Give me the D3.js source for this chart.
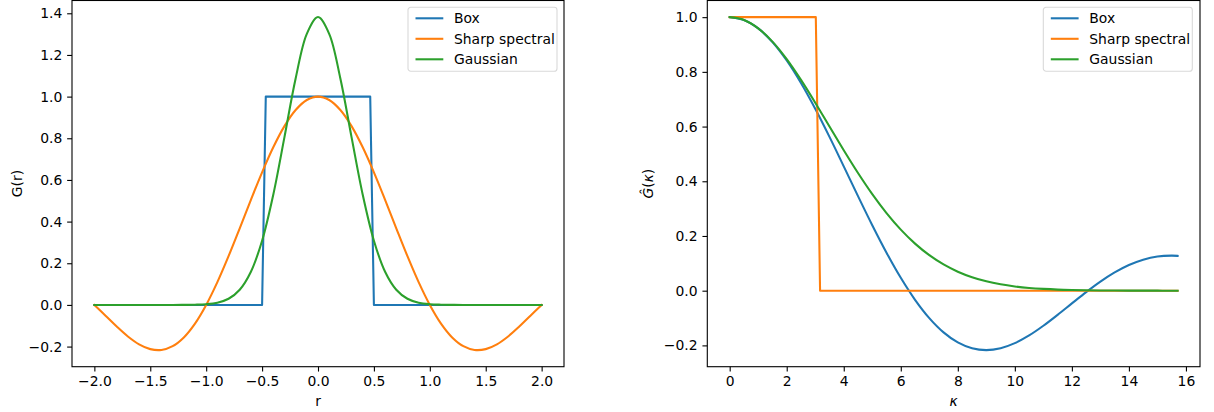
<!DOCTYPE html>
<html>
<head>
<meta charset="utf-8">
<script src="https://cdn.jsdelivr.net/npm/d3@7"></script>
<style>
  body { margin: 0; background: #fff; }
  svg text { font-family: "DejaVu Sans", sans-serif; fill: #000; }
</style>
</head>
<body>
<div class="chart"></div>
<script>
/* series names and colours */
const seriesNames = ["Box", "Sharp spectral", "Gaussian"];
const seriesColors = ["#1f77b4", "#ff7f0e", "#2ca02c"];

/* left panel: filter kernels G(r) */
const boxR = [-2.0, -0.5, -0.467, 0.467, 0.5, 2.0];
const boxG = [0, 0, 1, 1, 0, 0];

const smoothR = [-2.0, -1.9, -1.8, -1.7, -1.6, -1.5, -1.4, -1.3, -1.2, -1.1, -1.0,
  -0.9, -0.8, -0.7, -0.6, -0.5, -0.4, -0.3, -0.2, -0.1, 0.0,
  0.1, 0.2, 0.3, 0.4, 0.5, 0.6, 0.7, 0.8, 0.9, 1.0,
  1.1, 1.2, 1.3, 1.4, 1.5, 1.6, 1.7, 1.8, 1.9, 2.0];
const sharpG = [0, -0.0518, -0.1039, -0.1515, -0.1892, -0.2122, -0.2162, -0.1981, -0.1559, -0.0894, 0,
  0.1093, 0.2339, 0.3679, 0.5046, 0.6366, 0.7568, 0.8584, 0.9355, 0.9836, 1.0,
  0.9836, 0.9355, 0.8584, 0.7568, 0.6366, 0.5046, 0.3679, 0.2339, 0.1093, 0,
  -0.0894, -0.1559, -0.1981, -0.2162, -0.2122, -0.1892, -0.1515, -0.1039, -0.0518, 0];
const gaussG = [0, 0, 0, 0, 0, 0, 0, 0, 0.0002, 0.0010, 0.0034,
  0.0107, 0.0297, 0.0731, 0.1594, 0.3084, 0.5292, 0.8054, 1.0871, 1.3015, 1.382,
  1.3015, 1.0871, 0.8054, 0.5292, 0.3084, 0.1594, 0.0731, 0.0297, 0.0107, 0.0034,
  0.0010, 0.0002, 0, 0, 0, 0, 0, 0, 0, 0];

/* right panel: transfer functions Ĝ(κ) */
const kappa = [0, 0.5, 1, 1.5, 2, 2.5, 3, 3.5, 4, 4.5, 5, 5.5, 6, 6.5, 7, 7.5, 8,
  8.5, 9, 9.5, 10, 10.5, 11, 11.5, 12, 12.5, 13, 13.5, 14, 14.5, 15, 15.5, 15.708];
const boxHat = [1, 0.9896, 0.9589, 0.9089, 0.8415, 0.7592, 0.6650, 0.5623, 0.4546, 0.3458,
  0.2394, 0.1388, 0.0470, -0.0333, -0.1002, -0.1524, -0.1892, -0.2106, -0.2172, -0.2104,
  -0.1918, -0.1636, -0.1283, -0.0884, -0.0466, -0.0053, 0.0331, 0.0667, 0.0939, 0.1135,
  0.1251, 0.1283, 0.1273];
const gaussHat = [1, 0.9896, 0.9592, 0.9105, 0.8465, 0.7707, 0.6873, 0.6002, 0.5134, 0.4301,
  0.3529, 0.2836, 0.2231, 0.1720, 0.1298, 0.0960, 0.0695, 0.0493, 0.0342, 0.0233,
  0.0155, 0.0101, 0.0065, 0.0040, 0.0025, 0.0015, 0.0009, 0.0005, 0.0003, 0.0002,
  0.0001, 0, 0];
const sharpK = [0, 3.02, 3.17, 15.708];
const sharpHat = [1, 1, 0, 0];

/* tick values */
const leftXTicks = [-2.0, -1.5, -1.0, -0.5, 0.0, 0.5, 1.0, 1.5, 2.0];
const leftYTicks = [-0.2, 0.0, 0.2, 0.4, 0.6, 0.8, 1.0, 1.2, 1.4];
const rightXTicks = [0, 2, 4, 6, 8, 10, 12, 14, 16];
const rightYTicks = [-0.2, 0.0, 0.2, 0.4, 0.6, 0.8, 1.0];

const width = 1214;
const height = 412;
const fontSize = 13.9;
const tickLen = 4.86;
const tickPad = 4.86;

const svg = d3.select(".chart").append("svg")
  .attr("width", width)
  .attr("height", height)
  .attr("viewBox", [0, 0, width, height]);

const minus = s => s.replace("-", "\u2212");

function drawPanel(p) {
  const x = d3.scaleLinear().domain(p.xDomain).range([p.left, p.right]);
  const y = d3.scaleLinear().domain(p.yDomain).range([p.bottom, p.top]);
  const g = svg.append("g");

  /* clip for the lines */
  const clipId = "clip" + p.id;
  g.append("clipPath").attr("id", clipId)
    .append("rect")
      .attr("x", p.left).attr("y", p.top)
      .attr("width", p.right - p.left).attr("height", p.bottom - p.top);

  /* lines */
  const lineGroup = g.append("g").attr("clip-path", `url(#${clipId})`);
  p.series.forEach((s, i) => {
    const pts = s.xs.map((v, j) => [v, s.ys[j]]);
    lineGroup.append("path")
      .datum(pts)
      .attr("d", d3.line().x(d => x(d[0])).y(d => y(d[1])).curve(s.curve))
      .attr("fill", "none")
      .attr("stroke", seriesColors[i])
      .attr("stroke-width", 2.08)
      .attr("stroke-linejoin", "round")
      .attr("stroke-linecap", "square");
  });

  /* x axis */
  const xAxis = g.append("g")
    .attr("transform", `translate(0,${p.bottom})`)
    .call(d3.axisBottom(x).tickValues(p.xTicks).tickFormat(d => minus(p.xFmt(d)))
      .tickSizeInner(tickLen).tickSizeOuter(0).tickPadding(tickPad));
  xAxis.select(".domain").remove();
  xAxis.selectAll("line").attr("stroke", "#000").attr("stroke-width", 1.1);
  xAxis.selectAll("text").attr("font-size", fontSize).attr("font-family", "DejaVu Sans")
    .attr("fill", "#000");

  /* y axis */
  const yAxis = g.append("g")
    .attr("transform", `translate(${p.left},0)`)
    .call(d3.axisLeft(y).tickValues(p.yTicks).tickFormat(d => minus(d3.format(".1f")(d)))
      .tickSizeInner(tickLen).tickSizeOuter(0).tickPadding(tickPad));
  yAxis.select(".domain").remove();
  yAxis.selectAll("line").attr("stroke", "#000").attr("stroke-width", 1.1);
  yAxis.selectAll("text").attr("font-size", fontSize).attr("font-family", "DejaVu Sans")
    .attr("fill", "#000");

  /* spines */
  g.append("rect")
    .attr("x", p.left).attr("y", p.top)
    .attr("width", p.right - p.left).attr("height", p.bottom - p.top)
    .attr("fill", "none").attr("stroke", "#000").attr("stroke-width", 1.1);

  /* axis labels */
  p.xLabel(g.append("text")
    .attr("x", (p.left + p.right) / 2)
    .attr("y", 406)
    .attr("text-anchor", "middle")
    .attr("font-size", fontSize));

  p.yLabel(g.append("text")
    .attr("transform", `translate(${p.yLabelX},${(p.top + p.bottom) / 2}) rotate(-90)`)
    .attr("text-anchor", "middle")
    .attr("font-size", fontSize));

  /* legend */
  const lg = g.append("g").attr("transform", `translate(${p.legendX},7.3)`);
  lg.append("rect")
    .attr("width", 149).attr("height", 64)
    .attr("rx", 2.8)
    .attr("fill", "#fff").attr("fill-opacity", 0.8)
    .attr("stroke", "#d9d9d9").attr("stroke-width", 1.1);
  seriesNames.forEach((name, i) => {
    const cy = 11 + i * 20.5;
    lg.append("line")
      .attr("x1", 7.5).attr("x2", 35.3)
      .attr("y1", cy).attr("y2", cy)
      .attr("stroke", seriesColors[i]).attr("stroke-width", 2.08);
    lg.append("text")
      .attr("x", 46).attr("y", cy).attr("dy", "0.36em")
      .attr("font-size", fontSize)
      .text(name);
  });
}

drawPanel({
  id: "L",
  left: 72, right: 564, top: 0.5, bottom: 366.7,
  xDomain: [-2.2, 2.2], yDomain: [-0.2966, 1.4614],
  xTicks: leftXTicks, yTicks: leftYTicks,
  xFmt: d3.format(".1f"),
  series: [
    { xs: boxR, ys: boxG, curve: d3.curveLinear },
    { xs: smoothR, ys: sharpG, curve: d3.curveCatmullRom },
    { xs: smoothR, ys: gaussG, curve: d3.curveCatmullRom }
  ],
  xLabel: t => t.text("r"),
  yLabel: t => t.text("G(r)"),
  yLabelX: 22,
  legendX: 408
});

drawPanel({
  id: "R",
  left: 707.3, right: 1200, top: 0.5, bottom: 366.7,
  xDomain: [-0.785, 16.493], yDomain: [-0.2779, 1.0609],
  xTicks: rightXTicks, yTicks: rightYTicks,
  xFmt: d3.format("d"),
  series: [
    { xs: kappa, ys: boxHat, curve: d3.curveCatmullRom },
    { xs: sharpK, ys: sharpHat, curve: d3.curveLinear },
    { xs: kappa, ys: gaussHat, curve: d3.curveCatmullRom }
  ],
  xLabel: t => t.append("tspan").attr("font-style", "italic").text("\u03BA"),
  yLabel: t => {
    t.append("tspan").attr("font-style", "italic").text("\u011C");
    t.append("tspan").text("(");
    t.append("tspan").attr("font-style", "italic").text("\u03BA");
    t.append("tspan").text(")");
  },
  yLabelX: 653,
  legendX: 1043.3
});
</script>
</body>
</html>
